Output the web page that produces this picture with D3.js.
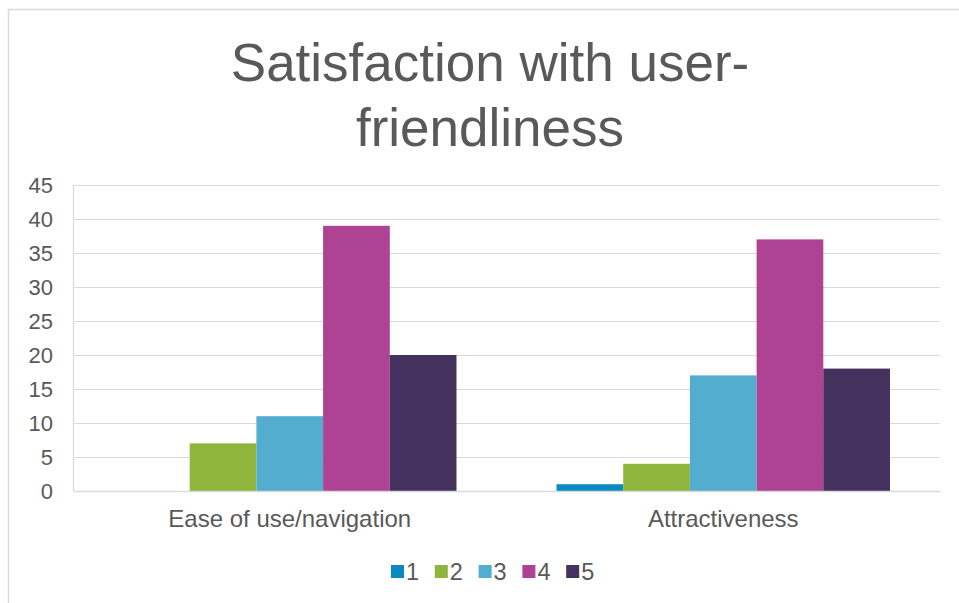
<!DOCTYPE html>
<html><head><meta charset="utf-8">
<script src="https://cdn.jsdelivr.net/npm/d3@7"></script>
<style>html,body{margin:0;padding:0;background:#fff;}svg{display:block;font-family:"Liberation Sans",Arial,sans-serif;}</style>
</head><body>
<script>
const categories = ["Ease of use/navigation", "Attractiveness"];
const seriesNames = ["1", "2", "3", "4", "5"];
const seriesColors = ["#0A8AC0", "#8FB53D", "#52ADCF", "#AE4394", "#44315D"];
const values = [
  [0, 7, 11, 39, 20],
  [1, 4, 17, 37, 18]
];
const yTicks = [0, 5, 10, 15, 20, 25, 30, 35, 40, 45];
const titleLines = ["Satisfaction with user-", "friendliness"];

const W = 959, H = 603;
const FONT = "Liberation Sans, Arial, sans-serif";
const svg = d3.select("body").append("svg").attr("width", W).attr("height", H);

// outer chart border
svg.append("path").attr("d", `M8.5,${H} V9.5 H${W}`).attr("fill", "none").attr("stroke", "#d9d9d9").attr("stroke-width", 1.5);

const plot = {left: 73, right: 940, top: 185, bottom: 491};

const x0 = d3.scaleBand().domain(categories).range([plot.left, plot.right])
  .paddingInner(1.5/6.5).paddingOuter(0.75/6.5);
const x1 = d3.scaleBand().domain(seriesNames).range([0, x0.bandwidth()]);
const y = d3.scaleLinear().domain([0, 45]).range([plot.bottom, plot.top]);

// title
svg.append("g").selectAll("text").data(titleLines).join("text")
  .attr("x", 490).attr("y", (d, i) => 81 + i * 65)
  .attr("text-anchor", "middle").attr("font-size", 53).attr("fill", "#595959")
  .attr("font-family", FONT)
  .text(d => d);

// gridlines
svg.append("g").selectAll("line").data(yTicks.filter(t => t > 0)).join("line")
  .attr("x1", plot.left).attr("x2", plot.right)
  .attr("y1", d => Math.round(y(d)) + 0.5).attr("y2", d => Math.round(y(d)) + 0.5)
  .attr("stroke", "#d9d9d9").attr("stroke-width", 1.2);

// y axis
const yAxis = d3.axisLeft(y).tickValues(yTicks).tickSize(0).tickPadding(0);
const gy = svg.append("g").attr("transform", `translate(${plot.left - 20},0)`).call(yAxis);
gy.select(".domain").remove();
gy.selectAll("text").attr("font-size", 22).attr("fill", "#595959").attr("font-family", FONT);

// vertical axis line
svg.append("line").attr("x1", plot.left + 0.5).attr("x2", plot.left + 0.5)
  .attr("y1", plot.top).attr("y2", plot.bottom).attr("stroke", "#d9d9d9").attr("stroke-width", 1.2);

// bars
const groups = svg.append("g").selectAll("g").data(categories).join("g")
  .attr("transform", d => `translate(${x0(d)},0)`);
groups.selectAll("rect").data((d, i) => values[i].map((v, j) => ({v, s: seriesNames[j], c: seriesColors[j]})))
  .join("rect")
  .attr("x", d => x1(d.s)).attr("width", x1.bandwidth())
  .attr("y", d => y(d.v)).attr("height", d => y(0) - y(d.v))
  .attr("fill", d => d.c);

// x axis
const xAxis = d3.axisBottom(x0).tickSize(0).tickPadding(0);
const gx = svg.append("g").attr("transform", `translate(0,${plot.bottom})`).call(xAxis);
gx.select(".domain").attr("stroke", "#d9d9d9").attr("stroke-width", 1.5);
gx.selectAll("text").attr("font-size", 24).attr("fill", "#595959").attr("dy", "0").attr("y", 36)
  .attr("font-family", FONT);

// legend
const legend = svg.append("g").selectAll("g").data(seriesNames).join("g")
  .attr("transform", (d, i) => `translate(${391 + i * 43.8},0)`);
legend.append("rect").attr("x", 0).attr("y", 565).attr("width", 13).attr("height", 13)
  .attr("fill", (d, i) => seriesColors[i]);
legend.append("text").attr("x", 15).attr("y", 580).attr("font-size", 23.5).attr("fill", "#595959")
  .attr("font-family", FONT).text(d => d);
</script>
</body></html>
